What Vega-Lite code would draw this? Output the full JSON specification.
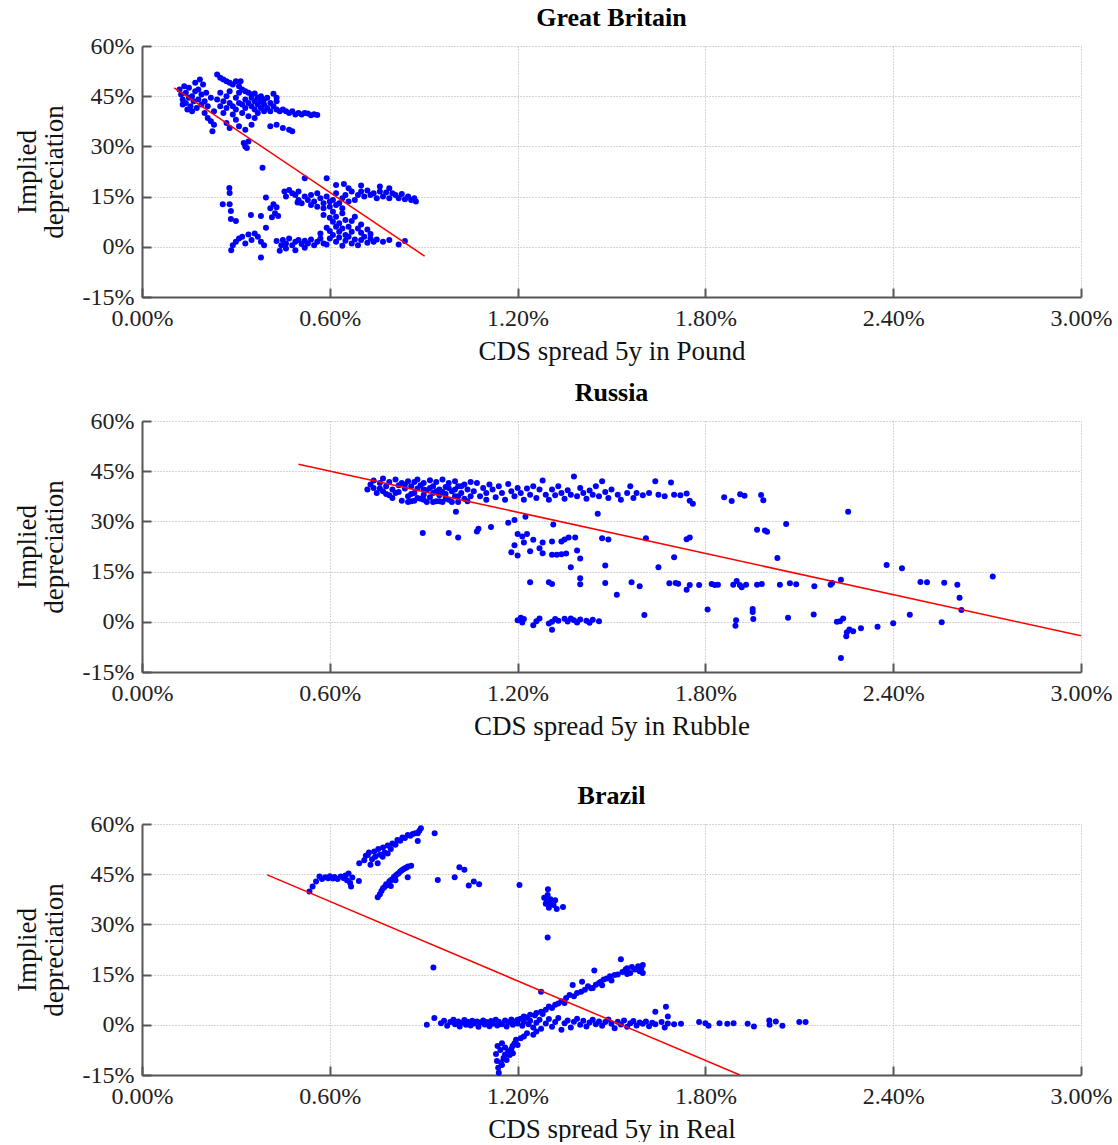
{
"$schema":"https://vega.github.io/schema/vega-lite/v6.json",
"background":"white",
"padding":{"left":13,"top":5,"right":0,"bottom":0},
"datasets":{
"fit":[{"c":"GB","x":0.103,"y":47.5},{"c":"GB","x":0.903,"y":-2.8},{"c":"RU","x":0.5,"y":47.1},{"c":"RU","x":3.0,"y":-4.2},{"c":"BR","x":0.4,"y":44.8},{"c":"BR","x":1.91,"y":-15}],
"pts":[
{"c":"GB","x":0.12,"y":47},{"c":"GB","x":0.125,"y":45.5},{"c":"GB","x":0.13,"y":44},{"c":"GB","x":0.13,"y":42.5},{"c":"GB","x":0.135,"y":48},{"c":"GB","x":0.14,"y":46},{"c":"GB","x":0.14,"y":43},{"c":"GB","x":0.145,"y":41},{"c":"GB","x":0.15,"y":44.5},{"c":"GB","x":0.15,"y":47.5},{"c":"GB","x":0.155,"y":42},{"c":"GB","x":0.16,"y":40.5},{"c":"GB","x":0.16,"y":45},{"c":"GB","x":0.165,"y":43.5},{"c":"GB","x":0.17,"y":49},{"c":"GB","x":0.17,"y":46.5},{"c":"GB","x":0.175,"y":41.5},{"c":"GB","x":0.18,"y":44},{"c":"GB","x":0.18,"y":47},{"c":"GB","x":0.185,"y":50},{"c":"GB","x":0.19,"y":42.5},{"c":"GB","x":0.19,"y":45.5},{"c":"GB","x":0.195,"y":48.5},{"c":"GB","x":0.2,"y":40},{"c":"GB","x":0.2,"y":43.5},{"c":"GB","x":0.205,"y":46},{"c":"GB","x":0.21,"y":38.5},{"c":"GB","x":0.21,"y":42},{"c":"GB","x":0.22,"y":44.5},{"c":"GB","x":0.22,"y":37.5},{"c":"GB","x":0.225,"y":34.5},{"c":"GB","x":0.23,"y":40.5},{"c":"GB","x":0.23,"y":36.5},
{"c":"GB","x":0.24,"y":51.5},{"c":"GB","x":0.25,"y":50.5},{"c":"GB","x":0.26,"y":50},{"c":"GB","x":0.27,"y":49.5},{"c":"GB","x":0.28,"y":49},{"c":"GB","x":0.29,"y":48.5},{"c":"GB","x":0.3,"y":49.5},{"c":"GB","x":0.31,"y":48},{"c":"GB","x":0.315,"y":49.5},{"c":"GB","x":0.32,"y":47},{"c":"GB","x":0.33,"y":46.5},{"c":"GB","x":0.34,"y":46},{"c":"GB","x":0.35,"y":45.5},{"c":"GB","x":0.36,"y":45.8},{"c":"GB","x":0.37,"y":44.5},{"c":"GB","x":0.38,"y":45},{"c":"GB","x":0.39,"y":44},{"c":"GB","x":0.4,"y":44.5},
{"c":"GB","x":0.24,"y":44},{"c":"GB","x":0.25,"y":42},{"c":"GB","x":0.25,"y":46},{"c":"GB","x":0.26,"y":43.5},{"c":"GB","x":0.26,"y":40},{"c":"GB","x":0.27,"y":45},{"c":"GB","x":0.27,"y":41.5},{"c":"GB","x":0.28,"y":43},{"c":"GB","x":0.28,"y":46.5},{"c":"GB","x":0.29,"y":42},{"c":"GB","x":0.29,"y":39.5},{"c":"GB","x":0.3,"y":44.5},{"c":"GB","x":0.3,"y":41},{"c":"GB","x":0.31,"y":43},{"c":"GB","x":0.31,"y":46},{"c":"GB","x":0.32,"y":42.5},{"c":"GB","x":0.32,"y":40},{"c":"GB","x":0.33,"y":44},{"c":"GB","x":0.33,"y":41.5},{"c":"GB","x":0.34,"y":43},{"c":"GB","x":0.34,"y":39},{"c":"GB","x":0.35,"y":42},{"c":"GB","x":0.35,"y":44.5},{"c":"GB","x":0.36,"y":41},{"c":"GB","x":0.36,"y":43.5},{"c":"GB","x":0.37,"y":42.5},{"c":"GB","x":0.37,"y":40},{"c":"GB","x":0.38,"y":41.5},{"c":"GB","x":0.38,"y":43.5},{"c":"GB","x":0.39,"y":40.5},{"c":"GB","x":0.39,"y":42.5},{"c":"GB","x":0.4,"y":41.5},{"c":"GB","x":0.41,"y":43},{"c":"GB","x":0.41,"y":40.5},{"c":"GB","x":0.42,"y":42},{"c":"GB","x":0.42,"y":45.7},{"c":"GB","x":0.43,"y":44.5},{"c":"GB","x":0.43,"y":41},{"c":"GB","x":0.43,"y":43.5},{"c":"GB","x":0.44,"y":40.5},{"c":"GB","x":0.45,"y":41},{"c":"GB","x":0.46,"y":40.5},{"c":"GB","x":0.47,"y":40},{"c":"GB","x":0.48,"y":40.5},{"c":"GB","x":0.49,"y":39.5},{"c":"GB","x":0.5,"y":40},{"c":"GB","x":0.51,"y":39.5},{"c":"GB","x":0.52,"y":40},{"c":"GB","x":0.53,"y":39.8},{"c":"GB","x":0.54,"y":39.3},{"c":"GB","x":0.55,"y":39.6},{"c":"GB","x":0.56,"y":39.4},
{"c":"GB","x":0.27,"y":37},{"c":"GB","x":0.28,"y":35.5},{"c":"GB","x":0.3,"y":38},{"c":"GB","x":0.31,"y":36},{"c":"GB","x":0.33,"y":35},{"c":"GB","x":0.35,"y":36.5},{"c":"GB","x":0.36,"y":38.5},{"c":"GB","x":0.41,"y":36},{"c":"GB","x":0.43,"y":36.5},{"c":"GB","x":0.45,"y":35.5},{"c":"GB","x":0.47,"y":35},{"c":"GB","x":0.48,"y":34.5},{"c":"GB","x":0.325,"y":31},{"c":"GB","x":0.33,"y":30},{"c":"GB","x":0.335,"y":29.5},{"c":"GB","x":0.34,"y":31.5},{"c":"GB","x":0.385,"y":23.6},
{"c":"GB","x":0.455,"y":16.5},{"c":"GB","x":0.46,"y":15},{"c":"GB","x":0.47,"y":17},{"c":"GB","x":0.48,"y":16},{"c":"GB","x":0.49,"y":15.5},{"c":"GB","x":0.497,"y":13.2},{"c":"GB","x":0.5,"y":14},{"c":"GB","x":0.5,"y":16.5},{"c":"GB","x":0.51,"y":13},{"c":"GB","x":0.52,"y":15},{"c":"GB","x":0.53,"y":14},{"c":"GB","x":0.54,"y":12.5},{"c":"GB","x":0.54,"y":15.5},{"c":"GB","x":0.55,"y":13.5},{"c":"GB","x":0.56,"y":16},{"c":"GB","x":0.56,"y":12},{"c":"GB","x":0.57,"y":14.5},{"c":"GB","x":0.58,"y":13},{"c":"GB","x":0.58,"y":11.5},{"c":"GB","x":0.59,"y":15},{"c":"GB","x":0.6,"y":13.5},{"c":"GB","x":0.6,"y":12},{"c":"GB","x":0.61,"y":14},{"c":"GB","x":0.62,"y":12.5},{"c":"GB","x":0.62,"y":16},{"c":"GB","x":0.63,"y":13},{"c":"GB","x":0.64,"y":14.5},{"c":"GB","x":0.64,"y":11.5},{"c":"GB","x":0.65,"y":15.5},{"c":"GB","x":0.66,"y":13.5},{"c":"GB","x":0.67,"y":16.5},{"c":"GB","x":0.68,"y":14},{"c":"GB","x":0.69,"y":15.5},{"c":"GB","x":0.7,"y":16.5},{"c":"GB","x":0.71,"y":15},{"c":"GB","x":0.72,"y":16.8},{"c":"GB","x":0.73,"y":15.5},{"c":"GB","x":0.74,"y":16},{"c":"GB","x":0.75,"y":14.5},{"c":"GB","x":0.76,"y":16.5},{"c":"GB","x":0.77,"y":15},{"c":"GB","x":0.78,"y":16.2},{"c":"GB","x":0.79,"y":14.5},{"c":"GB","x":0.8,"y":16},{"c":"GB","x":0.81,"y":15.5},{"c":"GB","x":0.82,"y":14.5},{"c":"GB","x":0.83,"y":15.8},{"c":"GB","x":0.84,"y":14.2},{"c":"GB","x":0.85,"y":15},{"c":"GB","x":0.86,"y":14},{"c":"GB","x":0.87,"y":14.5},{"c":"GB","x":0.875,"y":13.5},
{"c":"GB","x":0.52,"y":20.5},{"c":"GB","x":0.59,"y":20.5},{"c":"GB","x":0.62,"y":18.5},{"c":"GB","x":0.645,"y":18.8},{"c":"GB","x":0.66,"y":17.5},{"c":"GB","x":0.76,"y":18},{"c":"GB","x":0.79,"y":17.5},{"c":"GB","x":0.7,"y":18.3},
{"c":"GB","x":0.279,"y":17.6},{"c":"GB","x":0.28,"y":16.1},{"c":"GB","x":0.258,"y":12.7},{"c":"GB","x":0.28,"y":12.7},{"c":"GB","x":0.284,"y":10.7},{"c":"GB","x":0.284,"y":8.3},{"c":"GB","x":0.3,"y":7.7},{"c":"GB","x":0.348,"y":9.5},{"c":"GB","x":0.38,"y":9.2},{"c":"GB","x":0.396,"y":14.7},{"c":"GB","x":0.396,"y":5.7},{"c":"GB","x":0.41,"y":11.5},{"c":"GB","x":0.415,"y":8.8},{"c":"GB","x":0.42,"y":12.7},{"c":"GB","x":0.425,"y":10},{"c":"GB","x":0.43,"y":11.8},{"c":"GB","x":0.435,"y":9.2},{"c":"GB","x":0.38,"y":-3.2},
{"c":"GB","x":0.285,"y":-1},{"c":"GB","x":0.29,"y":0.5},{"c":"GB","x":0.3,"y":1.5},{"c":"GB","x":0.31,"y":2.5},{"c":"GB","x":0.32,"y":3},{"c":"GB","x":0.33,"y":1},{"c":"GB","x":0.34,"y":3.7},{"c":"GB","x":0.35,"y":2},{"c":"GB","x":0.36,"y":4},{"c":"GB","x":0.37,"y":3},{"c":"GB","x":0.38,"y":1.5},{"c":"GB","x":0.39,"y":0.5},{"c":"GB","x":0.43,"y":1.7},{"c":"GB","x":0.44,"y":-1.2},{"c":"GB","x":0.445,"y":0.5},{"c":"GB","x":0.45,"y":2},{"c":"GB","x":0.46,"y":1},{"c":"GB","x":0.46,"y":-0.5},{"c":"GB","x":0.47,"y":2.5},{"c":"GB","x":0.48,"y":0.5},{"c":"GB","x":0.49,"y":1.5},{"c":"GB","x":0.49,"y":-1},{"c":"GB","x":0.5,"y":2},{"c":"GB","x":0.51,"y":0.8},{"c":"GB","x":0.52,"y":1.8},{"c":"GB","x":0.52,"y":-0.3},{"c":"GB","x":0.53,"y":1},{"c":"GB","x":0.54,"y":2.2},{"c":"GB","x":0.55,"y":0.5},{"c":"GB","x":0.56,"y":1.5},{"c":"GB","x":0.57,"y":2.5},{"c":"GB","x":0.58,"y":1},{"c":"GB","x":0.59,"y":0.7},{"c":"GB","x":0.6,"y":2.5},{"c":"GB","x":0.61,"y":3.5},{"c":"GB","x":0.62,"y":1.5},{"c":"GB","x":0.63,"y":2.8},{"c":"GB","x":0.64,"y":0.3},{"c":"GB","x":0.65,"y":1.8},{"c":"GB","x":0.66,"y":3},{"c":"GB","x":0.67,"y":1},{"c":"GB","x":0.68,"y":2.2},{"c":"GB","x":0.69,"y":0.5},{"c":"GB","x":0.7,"y":2},{"c":"GB","x":0.71,"y":3},{"c":"GB","x":0.72,"y":1.2},{"c":"GB","x":0.73,"y":2.5},{"c":"GB","x":0.74,"y":1.5},{"c":"GB","x":0.75,"y":2.2},{"c":"GB","x":0.77,"y":1.5},{"c":"GB","x":0.79,"y":2},{"c":"GB","x":0.82,"y":0.7},{"c":"GB","x":0.84,"y":1.7},
{"c":"GB","x":0.59,"y":5.7},{"c":"GB","x":0.6,"y":8.7},{"c":"GB","x":0.6,"y":4.7},{"c":"GB","x":0.61,"y":7.5},{"c":"GB","x":0.61,"y":10.5},{"c":"GB","x":0.62,"y":6},{"c":"GB","x":0.62,"y":9},{"c":"GB","x":0.63,"y":4.5},{"c":"GB","x":0.63,"y":7},{"c":"GB","x":0.64,"y":5.5},{"c":"GB","x":0.64,"y":10},{"c":"GB","x":0.65,"y":3.5},{"c":"GB","x":0.65,"y":8},{"c":"GB","x":0.66,"y":6},{"c":"GB","x":0.67,"y":7.7},{"c":"GB","x":0.67,"y":4.5},{"c":"GB","x":0.68,"y":9},{"c":"GB","x":0.69,"y":5.5},{"c":"GB","x":0.7,"y":6.7},{"c":"GB","x":0.7,"y":4.2},{"c":"GB","x":0.72,"y":5.2},{"c":"GB","x":0.73,"y":3.8},{"c":"GB","x":0.57,"y":4},{"c":"GB","x":0.58,"y":9.5},

{"c":"RU","x":0.72,"y":39.5},{"c":"RU","x":0.73,"y":41},{"c":"RU","x":0.74,"y":40},{"c":"RU","x":0.74,"y":42.2},{"c":"RU","x":0.75,"y":38.5},{"c":"RU","x":0.76,"y":41.5},{"c":"RU","x":0.76,"y":39.8},{"c":"RU","x":0.77,"y":42.8},{"c":"RU","x":0.78,"y":40.5},{"c":"RU","x":0.78,"y":38.2},{"c":"RU","x":0.79,"y":41.8},{"c":"RU","x":0.8,"y":39.5},{"c":"RU","x":0.8,"y":37},{"c":"RU","x":0.81,"y":42.5},{"c":"RU","x":0.82,"y":40.8},{"c":"RU","x":0.82,"y":38.8},{"c":"RU","x":0.83,"y":36.2},{"c":"RU","x":0.83,"y":41.5},{"c":"RU","x":0.84,"y":39.8},{"c":"RU","x":0.85,"y":42},{"c":"RU","x":0.85,"y":37.5},{"c":"RU","x":0.86,"y":40.5},{"c":"RU","x":0.86,"y":36},{"c":"RU","x":0.87,"y":41.8},{"c":"RU","x":0.87,"y":38.5},{"c":"RU","x":0.88,"y":39.8},{"c":"RU","x":0.88,"y":42.5},{"c":"RU","x":0.89,"y":36.8},{"c":"RU","x":0.89,"y":40.8},{"c":"RU","x":0.9,"y":38},{"c":"RU","x":0.9,"y":41.5},{"c":"RU","x":0.91,"y":35.8},{"c":"RU","x":0.91,"y":39.3},{"c":"RU","x":0.92,"y":42.3},{"c":"RU","x":0.92,"y":37.2},{"c":"RU","x":0.93,"y":40.5},{"c":"RU","x":0.93,"y":38.5},{"c":"RU","x":0.94,"y":36},{"c":"RU","x":0.94,"y":41.8},{"c":"RU","x":0.95,"y":39.5},{"c":"RU","x":0.95,"y":37.8},{"c":"RU","x":0.96,"y":42.5},{"c":"RU","x":0.96,"y":35.8},{"c":"RU","x":0.97,"y":40.3},{"c":"RU","x":0.97,"y":38.2},{"c":"RU","x":0.98,"y":36.5},{"c":"RU","x":0.98,"y":41.5},{"c":"RU","x":0.99,"y":39},{"c":"RU","x":1.0,"y":42},{"c":"RU","x":1.0,"y":37.5},{"c":"RU","x":1.01,"y":40.5},{"c":"RU","x":1.01,"y":35.8},{"c":"RU","x":1.02,"y":38.5},{"c":"RU","x":1.03,"y":41},{"c":"RU","x":1.03,"y":36.8},{"c":"RU","x":1.04,"y":39.5},{"c":"RU","x":1.05,"y":37.5},{"c":"RU","x":1.05,"y":41.8},
{"c":"RU","x":0.77,"y":39},{"c":"RU","x":0.79,"y":37.8},{"c":"RU","x":0.81,"y":38.5},{"c":"RU","x":0.84,"y":41},{"c":"RU","x":0.86,"y":38.2},{"c":"RU","x":0.88,"y":37},{"c":"RU","x":0.9,"y":39.5},{"c":"RU","x":0.92,"y":40},{"c":"RU","x":0.94,"y":39},{"c":"RU","x":0.96,"y":38.8},{"c":"RU","x":0.98,"y":40},{"c":"RU","x":1.0,"y":39.5},{"c":"RU","x":1.02,"y":40.5},{"c":"RU","x":0.85,"y":35.8},{"c":"RU","x":0.87,"y":36.2},{"c":"RU","x":0.9,"y":36.5},{"c":"RU","x":0.93,"y":35.8},{"c":"RU","x":0.95,"y":36},{"c":"RU","x":0.97,"y":36.8},{"c":"RU","x":0.99,"y":35.8},{"c":"RU","x":1.01,"y":37.5},{"c":"RU","x":1.04,"y":36},
{"c":"RU","x":1.06,"y":39},{"c":"RU","x":1.07,"y":41.5},{"c":"RU","x":1.08,"y":37.5},{"c":"RU","x":1.09,"y":40},{"c":"RU","x":1.1,"y":38.5},{"c":"RU","x":1.1,"y":36.5},{"c":"RU","x":1.11,"y":41},{"c":"RU","x":1.12,"y":39.5},{"c":"RU","x":1.13,"y":37.2},{"c":"RU","x":1.14,"y":40.5},{"c":"RU","x":1.15,"y":38.5},{"c":"RU","x":1.16,"y":36.5},{"c":"RU","x":1.17,"y":41.2},{"c":"RU","x":1.18,"y":39},{"c":"RU","x":1.19,"y":37.5},{"c":"RU","x":1.2,"y":40},{"c":"RU","x":1.21,"y":38.5},{"c":"RU","x":1.22,"y":36.5},{"c":"RU","x":1.23,"y":39.8},{"c":"RU","x":1.24,"y":38},{"c":"RU","x":1.25,"y":40.5},{"c":"RU","x":1.26,"y":37},{"c":"RU","x":1.27,"y":39.5},{"c":"RU","x":1.28,"y":42.2},{"c":"RU","x":1.29,"y":38},{"c":"RU","x":1.3,"y":36.5},{"c":"RU","x":1.31,"y":39.5},{"c":"RU","x":1.32,"y":37.8},{"c":"RU","x":1.33,"y":40.5},{"c":"RU","x":1.34,"y":38.5},{"c":"RU","x":1.35,"y":36.8},{"c":"RU","x":1.36,"y":39.3},{"c":"RU","x":1.37,"y":38},{"c":"RU","x":1.38,"y":43.4},{"c":"RU","x":1.39,"y":37.5},{"c":"RU","x":1.4,"y":40},{"c":"RU","x":1.41,"y":38.5},{"c":"RU","x":1.42,"y":36.8},{"c":"RU","x":1.43,"y":39.2},{"c":"RU","x":1.44,"y":38},{"c":"RU","x":1.45,"y":40.5},{"c":"RU","x":1.46,"y":37.5},{"c":"RU","x":1.47,"y":42},{"c":"RU","x":1.48,"y":38.8},{"c":"RU","x":1.49,"y":37},{"c":"RU","x":1.5,"y":39.5},{"c":"RU","x":1.52,"y":38},{"c":"RU","x":1.53,"y":36.5},{"c":"RU","x":1.55,"y":38.5},{"c":"RU","x":1.56,"y":40.5},{"c":"RU","x":1.57,"y":37},{"c":"RU","x":1.58,"y":38.5},{"c":"RU","x":1.6,"y":37.8},{"c":"RU","x":1.62,"y":38.5},{"c":"RU","x":1.64,"y":42},{"c":"RU","x":1.65,"y":38},{"c":"RU","x":1.67,"y":37.5},{"c":"RU","x":1.69,"y":41.6},{"c":"RU","x":1.7,"y":38},{"c":"RU","x":1.72,"y":37.8},{"c":"RU","x":1.74,"y":38.3},{"c":"RU","x":1.75,"y":36.2},{"c":"RU","x":1.76,"y":35.3},
{"c":"RU","x":1.003,"y":32.9},{"c":"RU","x":0.897,"y":26.5},{"c":"RU","x":0.98,"y":26.5},{"c":"RU","x":1.01,"y":25.2},{"c":"RU","x":1.07,"y":27},{"c":"RU","x":1.075,"y":27.8},{"c":"RU","x":1.115,"y":28.3},{"c":"RU","x":1.17,"y":29.6},{"c":"RU","x":1.19,"y":30.4},{"c":"RU","x":1.225,"y":31.4},{"c":"RU","x":1.314,"y":29.1},{"c":"RU","x":1.456,"y":32.3},
{"c":"RU","x":1.2,"y":26.2},{"c":"RU","x":1.215,"y":25.5},{"c":"RU","x":1.19,"y":22.9},{"c":"RU","x":1.22,"y":23.7},{"c":"RU","x":1.23,"y":26.2},{"c":"RU","x":1.25,"y":24.5},{"c":"RU","x":1.28,"y":23.7},{"c":"RU","x":1.31,"y":24},{"c":"RU","x":1.34,"y":24},{"c":"RU","x":1.35,"y":24.6},{"c":"RU","x":1.363,"y":25.2},{"c":"RU","x":1.384,"y":25.2},{"c":"RU","x":1.18,"y":20.8},{"c":"RU","x":1.2,"y":19.8},{"c":"RU","x":1.24,"y":21.1},{"c":"RU","x":1.27,"y":22},{"c":"RU","x":1.28,"y":20.5},{"c":"RU","x":1.31,"y":20},{"c":"RU","x":1.325,"y":20},{"c":"RU","x":1.34,"y":20.2},{"c":"RU","x":1.355,"y":20.4},{"c":"RU","x":1.4,"y":18.9},{"c":"RU","x":1.39,"y":21.3},{"c":"RU","x":1.37,"y":16.3},{"c":"RU","x":1.47,"y":25},{"c":"RU","x":1.49,"y":24.6},{"c":"RU","x":1.61,"y":25},{"c":"RU","x":1.74,"y":24.7},{"c":"RU","x":1.75,"y":25.2},{"c":"RU","x":1.7,"y":19.3},{"c":"RU","x":1.65,"y":16.3},{"c":"RU","x":1.48,"y":16.8},
{"c":"RU","x":1.24,"y":11.8},{"c":"RU","x":1.3,"y":11.8},{"c":"RU","x":1.31,"y":11.3},{"c":"RU","x":1.4,"y":13},{"c":"RU","x":1.4,"y":11.2},{"c":"RU","x":1.48,"y":11.6},{"c":"RU","x":1.517,"y":8.1},{"c":"RU","x":1.564,"y":11.8},{"c":"RU","x":1.59,"y":10.6},{"c":"RU","x":1.605,"y":2.0},{"c":"RU","x":1.685,"y":11.5},{"c":"RU","x":1.705,"y":11.6},{"c":"RU","x":1.713,"y":11.4},{"c":"RU","x":1.74,"y":9.6},{"c":"RU","x":1.75,"y":11},{"c":"RU","x":1.78,"y":11},{"c":"RU","x":1.807,"y":3.7},{"c":"RU","x":1.82,"y":11.3},{"c":"RU","x":1.83,"y":11},
{"c":"RU","x":1.2,"y":0.5},{"c":"RU","x":1.21,"y":1.2},{"c":"RU","x":1.22,"y":0.8},{"c":"RU","x":1.215,"y":-0.2},{"c":"RU","x":1.25,"y":-1},{"c":"RU","x":1.26,"y":0.2},{"c":"RU","x":1.27,"y":1},{"c":"RU","x":1.3,"y":-0.5},{"c":"RU","x":1.31,"y":0},{"c":"RU","x":1.32,"y":0.8},{"c":"RU","x":1.33,"y":0.3},{"c":"RU","x":1.35,"y":0.9},{"c":"RU","x":1.36,"y":0.1},{"c":"RU","x":1.37,"y":1},{"c":"RU","x":1.38,"y":0.5},{"c":"RU","x":1.39,"y":-0.2},{"c":"RU","x":1.4,"y":0.7},{"c":"RU","x":1.42,"y":0.3},{"c":"RU","x":1.43,"y":-0.3},{"c":"RU","x":1.44,"y":0.6},{"c":"RU","x":1.46,"y":0.2},{"c":"RU","x":1.31,"y":-2.4},
{"c":"RU","x":1.86,"y":37.2},{"c":"RU","x":1.884,"y":36.1},{"c":"RU","x":1.911,"y":38.1},{"c":"RU","x":1.925,"y":37.7},{"c":"RU","x":1.978,"y":37.9},{"c":"RU","x":1.985,"y":36.3},{"c":"RU","x":2.256,"y":32.9},{"c":"RU","x":1.965,"y":27.5},{"c":"RU","x":1.99,"y":27.3},{"c":"RU","x":1.997,"y":26.9},{"c":"RU","x":2.058,"y":29.2},{"c":"RU","x":2.03,"y":19.1},{"c":"RU","x":2.379,"y":17},{"c":"RU","x":2.428,"y":16},{"c":"RU","x":2.718,"y":13.5},
{"c":"RU","x":1.84,"y":11.1},{"c":"RU","x":1.889,"y":11.1},{"c":"RU","x":1.9,"y":12.2},{"c":"RU","x":1.91,"y":11},{"c":"RU","x":1.916,"y":10.3},{"c":"RU","x":1.93,"y":11.1},{"c":"RU","x":1.965,"y":11.1},{"c":"RU","x":1.98,"y":11.3},{"c":"RU","x":2.038,"y":11.1},{"c":"RU","x":2.07,"y":11.5},{"c":"RU","x":2.09,"y":11.2},{"c":"RU","x":2.148,"y":10.6},{"c":"RU","x":2.2,"y":11.1},{"c":"RU","x":2.205,"y":11.6},{"c":"RU","x":2.233,"y":12.6},{"c":"RU","x":2.487,"y":11.9},{"c":"RU","x":2.508,"y":11.8},{"c":"RU","x":2.563,"y":11.7},{"c":"RU","x":2.605,"y":11.1},{"c":"RU","x":2.612,"y":7.2},{"c":"RU","x":2.618,"y":3.5},
{"c":"RU","x":1.951,"y":3.8},{"c":"RU","x":1.951,"y":2.9},{"c":"RU","x":1.953,"y":0.8},{"c":"RU","x":1.898,"y":0.5},{"c":"RU","x":1.896,"y":-1.2},{"c":"RU","x":2.064,"y":1.2},{"c":"RU","x":2.146,"y":2.2},{"c":"RU","x":2.22,"y":0.0},{"c":"RU","x":2.23,"y":0.2},{"c":"RU","x":2.24,"y":1.0},{"c":"RU","x":2.233,"y":-10.8},{"c":"RU","x":2.25,"y":-4.3},{"c":"RU","x":2.252,"y":-3.1},{"c":"RU","x":2.26,"y":-2.3},{"c":"RU","x":2.272,"y":-2.8},{"c":"RU","x":2.297,"y":-1.9},{"c":"RU","x":2.35,"y":-1.5},{"c":"RU","x":2.4,"y":-0.4},{"c":"RU","x":2.453,"y":2.1},{"c":"RU","x":2.555,"y":-0.1},

{"c":"BR","x":0.535,"y":39.8},{"c":"BR","x":0.545,"y":41.3},{"c":"BR","x":0.556,"y":42.8},{"c":"BR","x":0.567,"y":44.3},{"c":"BR","x":0.575,"y":43.6},{"c":"BR","x":0.585,"y":44.1},{"c":"BR","x":0.595,"y":43.8},{"c":"BR","x":0.6,"y":44.4},{"c":"BR","x":0.61,"y":43.7},{"c":"BR","x":0.615,"y":44.2},{"c":"BR","x":0.625,"y":43.6},{"c":"BR","x":0.635,"y":44.3},{"c":"BR","x":0.645,"y":43.8},{"c":"BR","x":0.65,"y":44.6},{"c":"BR","x":0.655,"y":43.2},{"c":"BR","x":0.66,"y":45.2},{"c":"BR","x":0.665,"y":42.4},{"c":"BR","x":0.668,"y":41.3},{"c":"BR","x":0.672,"y":44},{"c":"BR","x":0.693,"y":43},{"c":"BR","x":0.694,"y":48.3},
{"c":"BR","x":0.71,"y":49.2},{"c":"BR","x":0.715,"y":50.5},{"c":"BR","x":0.721,"y":50.7},{"c":"BR","x":0.725,"y":51.5},{"c":"BR","x":0.73,"y":47.8},{"c":"BR","x":0.735,"y":49.5},{"c":"BR","x":0.742,"y":51.8},{"c":"BR","x":0.745,"y":50.2},{"c":"BR","x":0.753,"y":48.3},{"c":"BR","x":0.755,"y":52.5},{"c":"BR","x":0.76,"y":50.8},{"c":"BR","x":0.769,"y":50.2},{"c":"BR","x":0.77,"y":53},{"c":"BR","x":0.775,"y":51.5},{"c":"BR","x":0.785,"y":51.2},{"c":"BR","x":0.785,"y":53.6},{"c":"BR","x":0.795,"y":52.5},{"c":"BR","x":0.8,"y":54.2},{"c":"BR","x":0.81,"y":53.8},{"c":"BR","x":0.816,"y":55.2},{"c":"BR","x":0.825,"y":55},{"c":"BR","x":0.832,"y":56},{"c":"BR","x":0.84,"y":55.8},{"c":"BR","x":0.849,"y":56.7},{"c":"BR","x":0.857,"y":56.5},{"c":"BR","x":0.865,"y":57},{"c":"BR","x":0.873,"y":57.2},{"c":"BR","x":0.881,"y":57.2},{"c":"BR","x":0.886,"y":58},{"c":"BR","x":0.891,"y":58.7},{"c":"BR","x":0.881,"y":54.9},{"c":"BR","x":0.935,"y":57.2},
{"c":"BR","x":0.753,"y":38.1},{"c":"BR","x":0.76,"y":39},{"c":"BR","x":0.765,"y":40},{"c":"BR","x":0.77,"y":40.8},{"c":"BR","x":0.775,"y":41.2},{"c":"BR","x":0.78,"y":42},{"c":"BR","x":0.785,"y":41.8},{"c":"BR","x":0.79,"y":42.8},{"c":"BR","x":0.795,"y":43.2},{"c":"BR","x":0.8,"y":43.5},{"c":"BR","x":0.805,"y":44.2},{"c":"BR","x":0.81,"y":44.5},{"c":"BR","x":0.815,"y":45},{"c":"BR","x":0.82,"y":45.3},{"c":"BR","x":0.825,"y":45.8},{"c":"BR","x":0.83,"y":46.2},{"c":"BR","x":0.835,"y":46.5},{"c":"BR","x":0.84,"y":46.8},{"c":"BR","x":0.845,"y":47},{"c":"BR","x":0.85,"y":47.3},{"c":"BR","x":0.86,"y":47.5},{"c":"BR","x":0.849,"y":44.1},{"c":"BR","x":0.795,"y":41.5},{"c":"BR","x":0.81,"y":43.2},
{"c":"BR","x":0.945,"y":43.3},{"c":"BR","x":0.999,"y":44.1},{"c":"BR","x":1.014,"y":47.1},{"c":"BR","x":1.03,"y":46.3},{"c":"BR","x":1.044,"y":41.6},{"c":"BR","x":1.06,"y":42.8},{"c":"BR","x":1.077,"y":42},{"c":"BR","x":1.206,"y":41.8},{"c":"BR","x":1.285,"y":38},{"c":"BR","x":1.293,"y":37},{"c":"BR","x":1.296,"y":38.8},{"c":"BR","x":1.297,"y":40.5},{"c":"BR","x":1.3,"y":36.5},{"c":"BR","x":1.305,"y":37.5},{"c":"BR","x":1.31,"y":36},{"c":"BR","x":1.315,"y":35.8},{"c":"BR","x":1.32,"y":37.2},{"c":"BR","x":1.325,"y":34.6},{"c":"BR","x":1.345,"y":35.2},{"c":"BR","x":1.29,"y":36.2},{"c":"BR","x":1.3,"y":35},{"c":"BR","x":1.296,"y":26.1},{"c":"BR","x":0.931,"y":17.1},{"c":"BR","x":1.275,"y":9.9},
{"c":"BR","x":0.91,"y":0},{"c":"BR","x":0.934,"y":2},{"c":"BR","x":0.955,"y":0.5},{"c":"BR","x":0.965,"y":1.2},{"c":"BR","x":0.975,"y":-0.3},{"c":"BR","x":0.985,"y":0.8},{"c":"BR","x":0.995,"y":1.5},{"c":"BR","x":1.0,"y":0.2},{"c":"BR","x":1.01,"y":1},{"c":"BR","x":1.015,"y":-0.5},{"c":"BR","x":1.02,"y":0.6},{"c":"BR","x":1.03,"y":1.4},{"c":"BR","x":1.035,"y":0},{"c":"BR","x":1.04,"y":0.9},{"c":"BR","x":1.05,"y":-0.2},{"c":"BR","x":1.055,"y":1.2},{"c":"BR","x":1.06,"y":0.4},{"c":"BR","x":1.07,"y":1},{"c":"BR","x":1.075,"y":-0.6},{"c":"BR","x":1.08,"y":0.7},{"c":"BR","x":1.09,"y":1.3},{"c":"BR","x":1.095,"y":0.1},{"c":"BR","x":1.1,"y":0.8},{"c":"BR","x":1.11,"y":-0.4},{"c":"BR","x":1.115,"y":1.1},{"c":"BR","x":1.12,"y":0.3},{"c":"BR","x":1.13,"y":1.5},{"c":"BR","x":1.135,"y":-0.2},{"c":"BR","x":1.14,"y":0.9},{"c":"BR","x":1.15,"y":0.2},{"c":"BR","x":1.16,"y":1.3},{"c":"BR","x":1.165,"y":-0.5},{"c":"BR","x":1.17,"y":0.7},{"c":"BR","x":1.18,"y":1.6},{"c":"BR","x":1.185,"y":0},{"c":"BR","x":1.19,"y":1},{"c":"BR","x":1.2,"y":0.4},{"c":"BR","x":1.21,"y":1.8},{"c":"BR","x":1.215,"y":-0.3},{"c":"BR","x":1.22,"y":0.9},{"c":"BR","x":1.23,"y":2.2},{"c":"BR","x":1.235,"y":0.2},{"c":"BR","x":1.24,"y":1.2},{"c":"BR","x":1.25,"y":-0.8},{"c":"BR","x":1.255,"y":2.8},{"c":"BR","x":1.26,"y":0.6},{"c":"BR","x":1.27,"y":1.5},{"c":"BR","x":1.275,"y":-1.2},{"c":"BR","x":1.28,"y":3.2},{"c":"BR","x":1.29,"y":0.4},{"c":"BR","x":1.3,"y":1.7},{"c":"BR","x":1.31,"y":-0.6},{"c":"BR","x":1.32,"y":0.8},{"c":"BR","x":1.33,"y":2},{"c":"BR","x":1.34,"y":-1.5},{"c":"BR","x":1.35,"y":0.5},{"c":"BR","x":1.36,"y":1.3},{"c":"BR","x":1.37,"y":-0.8},{"c":"BR","x":1.38,"y":0.9},{"c":"BR","x":1.39,"y":1.8},{"c":"BR","x":1.4,"y":0},{"c":"BR","x":1.41,"y":1.2},{"c":"BR","x":1.42,"y":-0.5},{"c":"BR","x":1.43,"y":0.7},{"c":"BR","x":1.44,"y":1.5},{"c":"BR","x":1.45,"y":0.2},{"c":"BR","x":1.46,"y":1},{"c":"BR","x":1.47,"y":-0.3},{"c":"BR","x":1.48,"y":0.8},{"c":"BR","x":1.49,"y":1.6},{"c":"BR","x":1.5,"y":0.3},{"c":"BR","x":1.51,"y":-1},{"c":"BR","x":1.52,"y":0.9},{"c":"BR","x":1.53,"y":0.1},{"c":"BR","x":1.54,"y":1.3},{"c":"BR","x":1.55,"y":-0.6},{"c":"BR","x":1.56,"y":0.5},{"c":"BR","x":1.57,"y":1.1},{"c":"BR","x":1.58,"y":-0.2},{"c":"BR","x":1.59,"y":0.7},{"c":"BR","x":1.6,"y":0.3},{"c":"BR","x":1.61,"y":1},{"c":"BR","x":1.62,"y":-0.4},{"c":"BR","x":1.63,"y":0.6},{"c":"BR","x":1.64,"y":0.2},{"c":"BR","x":1.66,"y":0.8},{"c":"BR","x":1.67,"y":-0.8},{"c":"BR","x":1.68,"y":0.4},{"c":"BR","x":1.7,"y":0.2},{"c":"BR","x":1.722,"y":0.3},{"c":"BR","x":1.78,"y":0.8},{"c":"BR","x":1.8,"y":0.5},{"c":"BR","x":1.81,"y":-0.3},{"c":"BR","x":1.845,"y":0.5},{"c":"BR","x":1.87,"y":0.3},{"c":"BR","x":1.89,"y":0.5},{"c":"BR","x":1.935,"y":0.3},{"c":"BR","x":1.955,"y":-0.5},{"c":"BR","x":2.004,"y":1.3},{"c":"BR","x":2.005,"y":0},{"c":"BR","x":2.025,"y":1},{"c":"BR","x":2.046,"y":-0.3},{"c":"BR","x":2.1,"y":0.8},{"c":"BR","x":2.12,"y":0.8},{"c":"BR","x":1.23,"y":-2.5},{"c":"BR","x":1.25,"y":-3},{"c":"BR","x":1.26,"y":-2},
{"c":"BR","x":1.2,"y":1.5},{"c":"BR","x":1.22,"y":2.5},{"c":"BR","x":1.24,"y":3},{"c":"BR","x":1.26,"y":3.5},{"c":"BR","x":1.275,"y":3.9},{"c":"BR","x":1.29,"y":4.5},{"c":"BR","x":1.3,"y":5.5},{"c":"BR","x":1.31,"y":5},{"c":"BR","x":1.32,"y":6},{"c":"BR","x":1.33,"y":6.4},{"c":"BR","x":1.34,"y":7},{"c":"BR","x":1.35,"y":6.5},{"c":"BR","x":1.355,"y":8},{"c":"BR","x":1.366,"y":8.9},{"c":"BR","x":1.376,"y":11.9},{"c":"BR","x":1.38,"y":8.5},{"c":"BR","x":1.39,"y":9.5},{"c":"BR","x":1.403,"y":9.9},{"c":"BR","x":1.406,"y":12.9},{"c":"BR","x":1.415,"y":10.5},{"c":"BR","x":1.425,"y":11.5},{"c":"BR","x":1.435,"y":10.9},{"c":"BR","x":1.445,"y":16.2},{"c":"BR","x":1.45,"y":12},{"c":"BR","x":1.46,"y":12.5},{"c":"BR","x":1.466,"y":12.9},{"c":"BR","x":1.475,"y":13.5},{"c":"BR","x":1.485,"y":13.8},{"c":"BR","x":1.495,"y":14.5},{"c":"BR","x":1.51,"y":14.9},{"c":"BR","x":1.52,"y":15},{"c":"BR","x":1.53,"y":19.6},{"c":"BR","x":1.535,"y":15.8},{"c":"BR","x":1.545,"y":16.5},{"c":"BR","x":1.55,"y":16.9},{"c":"BR","x":1.56,"y":15.5},{"c":"BR","x":1.565,"y":17.3},{"c":"BR","x":1.575,"y":16.5},{"c":"BR","x":1.585,"y":17.5},{"c":"BR","x":1.59,"y":16},{"c":"BR","x":1.6,"y":17.9},{"c":"BR","x":1.6,"y":15.5},{"c":"BR","x":1.595,"y":16.8},{"c":"BR","x":1.55,"y":15.2},{"c":"BR","x":1.5,"y":13.2},{"c":"BR","x":1.47,"y":11.8},{"c":"BR","x":1.44,"y":11},{"c":"BR","x":1.674,"y":5.4},{"c":"BR","x":1.68,"y":2.5},{"c":"BR","x":1.64,"y":3.9},
{"c":"BR","x":1.131,"y":-8.7},{"c":"BR","x":1.136,"y":-6.3},{"c":"BR","x":1.134,"y":-10.8},{"c":"BR","x":1.138,"y":-12.8},{"c":"BR","x":1.14,"y":-14.3},{"c":"BR","x":1.147,"y":-11.3},{"c":"BR","x":1.155,"y":-9.9},{"c":"BR","x":1.16,"y":-8.9},{"c":"BR","x":1.17,"y":-7.9},{"c":"BR","x":1.18,"y":-7.2},{"c":"BR","x":1.184,"y":-6.3},{"c":"BR","x":1.19,"y":-5.5},{"c":"BR","x":1.195,"y":-4.5},{"c":"BR","x":1.21,"y":-4},{"c":"BR","x":1.22,"y":-3.5},{"c":"BR","x":1.145,"y":-7.5},{"c":"BR","x":1.15,"y":-12},{"c":"BR","x":1.165,"y":-10.5},{"c":"BR","x":1.175,"y":-9},{"c":"BR","x":1.15,"y":-5.5},{"c":"BR","x":1.16,"y":-6.8},{"c":"BR","x":1.185,"y":-8.5},{"c":"BR","x":1.2,"y":-6}
]
},
"config":{
"view":{"stroke":null},
"font":"Liberation Serif",
"title":{"font":"Liberation Serif","fontSize":26,"fontWeight":"bold","color":"#000","offset":3},
"axis":{"labelFont":"Liberation Serif","labelFontSize":24,"labelColor":"#222","labelFlush":false,"titleFont":"Liberation Serif","titleFontSize":27,"titleFontWeight":"normal","titleColor":"#111","domainColor":"#555","domainWidth":2,"tickColor":"#555","tickWidth":2,"gridColor":"#aaa","gridDash":[1,2],"gridWidth":1}
},
"vconcat":[
{"vconcat":[
{"width":939,"height":251,"title":"Great Britain",
"layer":[
{"data":{"name":"pts"},"transform":[{"filter":"datum.c==='GB'"}],"mark":{"type":"circle","size":36,"color":"#0000ff","opacity":1},
"encoding":{"x":{"field":"x","type":"quantitative","scale":{"domain":[0,3],"nice":false,"padding":0,"zero":false},"axis":{"values":[0,0.6,1.2,1.8,2.4,3],"labelExpr":"format(datum.value,'.2f')+'%'","title":"CDS spread 5y in Pound","tickSize":-9,"labelPadding":18,"titlePadding":8}},
"y":{"field":"y","type":"quantitative","scale":{"domain":[-15,60],"nice":false,"padding":0,"zero":false},"axis":{"values":[-15,0,15,30,45,60],"labelExpr":"datum.value+'%'","title":["Implied","depreciation"],"tickSize":-9,"labelPadding":17,"titlePadding":14,"titleLineHeight":27}}}},
{"data":{"name":"fit"},"transform":[{"filter":"datum.c==='GB'"}],"mark":{"type":"line","color":"#ff0000","strokeWidth":1.5},"encoding":{"x":{"field":"x","type":"quantitative"},"y":{"field":"y","type":"quantitative"}}}
]},
{"width":939,"height":251,"title":"Russia",
"layer":[
{"data":{"name":"pts"},"transform":[{"filter":"datum.c==='RU'"}],"mark":{"type":"circle","size":36,"color":"#0000ff","opacity":1},
"encoding":{"x":{"field":"x","type":"quantitative","scale":{"domain":[0,3],"nice":false,"padding":0,"zero":false},"axis":{"values":[0,0.6,1.2,1.8,2.4,3],"labelExpr":"format(datum.value,'.2f')+'%'","title":"CDS spread 5y in Rubble","tickSize":-9,"labelPadding":18,"titlePadding":8}},
"y":{"field":"y","type":"quantitative","scale":{"domain":[-15,60],"nice":false,"padding":0,"zero":false},"axis":{"values":[-15,0,15,30,45,60],"labelExpr":"datum.value+'%'","title":["Implied","depreciation"],"tickSize":-9,"labelPadding":17,"titlePadding":14,"titleLineHeight":27}}}},
{"data":{"name":"fit"},"transform":[{"filter":"datum.c==='RU'"}],"mark":{"type":"line","color":"#ff0000","strokeWidth":1.5},"encoding":{"x":{"field":"x","type":"quantitative"},"y":{"field":"y","type":"quantitative"}}}
]}
],"spacing":16},
{"width":939,"height":251,"title":"Brazil",
"layer":[
{"data":{"name":"pts"},"transform":[{"filter":"datum.c==='BR'"}],"mark":{"type":"circle","size":36,"color":"#0000ff","opacity":1},
"encoding":{"x":{"field":"x","type":"quantitative","scale":{"domain":[0,3],"nice":false,"padding":0,"zero":false},"axis":{"values":[0,0.6,1.2,1.8,2.4,3],"labelExpr":"format(datum.value,'.2f')+'%'","title":"CDS spread 5y in Real","tickSize":-9,"labelPadding":18,"titlePadding":8}},
"y":{"field":"y","type":"quantitative","scale":{"domain":[-15,60],"nice":false,"padding":0,"zero":false},"axis":{"values":[-15,0,15,30,45,60],"labelExpr":"datum.value+'%'","title":["Implied","depreciation"],"tickSize":-9,"labelPadding":17,"titlePadding":14,"titleLineHeight":27}}}},
{"data":{"name":"fit"},"transform":[{"filter":"datum.c==='BR'"}],"mark":{"type":"line","color":"#ff0000","strokeWidth":1.5,"clip":true},"encoding":{"x":{"field":"x","type":"quantitative"},"y":{"field":"y","type":"quantitative"}}}
]}
],"spacing":44
}
